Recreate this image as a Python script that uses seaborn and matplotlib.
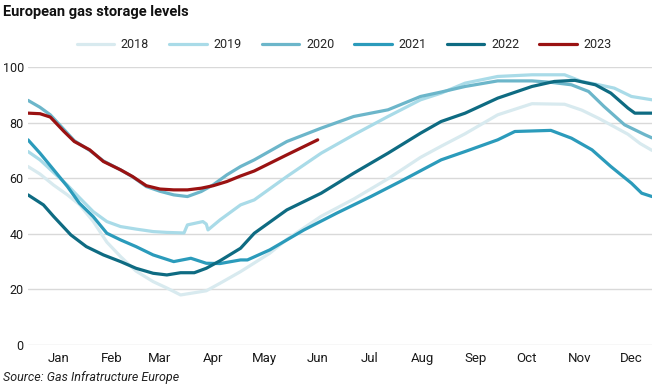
import matplotlib
matplotlib.use("Agg")
import matplotlib.pyplot as plt
import pandas as pd
import seaborn as sns

# Storage level (% full), by day of year
days_2018 = [1, 8, 16, 24, 31, 35, 39, 47, 55, 64, 74, 82, 90, 98, 105, 113, 125, 142, 152, 172, 191, 211, 230, 242, 256, 275, 295, 314, 324, 334, 343, 351, 358, 365]
vals_2018 = [64.2, 61.5, 57.5, 54.0, 50.5, 47.5, 44.5, 37.0, 31.8, 26.6, 22.8, 20.5, 18.0, 18.8, 19.5, 22.2, 26.4, 33.0, 38.0, 46.3, 52.5, 59.8, 67.5, 71.5, 76.0, 82.8, 86.8, 86.6, 84.5, 81.5, 78.5, 75.8, 72.5, 70.0]

days_2019 = [1, 8, 16, 24, 31, 39, 47, 55, 64, 74, 82, 92, 94, 103, 105, 106, 113, 125, 133, 152, 172, 191, 211, 230, 242, 256, 275, 295, 314, 324, 334, 343, 353, 365]
vals_2019 = [69.6, 66.6, 62.0, 57.5, 53.0, 48.0, 44.4, 42.6, 41.7, 40.8, 40.5, 40.3, 43.2, 44.4, 43.5, 41.4, 45.0, 50.4, 52.2, 60.6, 69.0, 75.6, 82.2, 88.2, 90.6, 94.2, 96.6, 97.2, 97.2, 94.8, 93.6, 92.4, 89.4, 88.2]

days_2020 = [1, 8, 14, 22, 28, 37, 45, 55, 62, 70, 78, 86, 94, 102, 109, 117, 125, 133, 152, 172, 191, 211, 230, 242, 256, 275, 295, 306, 318, 328, 337, 349, 361, 365]
vals_2020 = [88.0, 85.5, 82.8, 77.5, 73.5, 70.0, 66.2, 63.0, 60.5, 57.0, 55.3, 54.0, 53.4, 55.2, 57.6, 61.2, 64.2, 66.6, 73.2, 78.0, 82.2, 84.6, 89.4, 91.0, 93.0, 95.0, 95.0, 94.5, 93.6, 91.2, 85.8, 79.2, 75.6, 74.5]

days_2021 = [1, 8, 16, 24, 31, 39, 47, 55, 64, 74, 86, 96, 105, 113, 125, 129, 142, 162, 181, 201, 220, 242, 256, 275, 285, 306, 318, 330, 341, 353, 359, 365]
vals_2021 = [73.8, 69.0, 63.0, 57.0, 51.0, 46.2, 40.2, 37.8, 35.4, 32.4, 30.0, 31.2, 29.4, 29.3, 30.6, 30.6, 34.2, 41.4, 47.4, 53.4, 59.4, 66.6, 69.6, 73.8, 76.8, 77.2, 74.4, 70.2, 64.2, 58.2, 54.6, 53.4]

days_2022 = [1, 10, 16, 26, 35, 45, 55, 64, 74, 82, 90, 98, 105, 113, 125, 133, 152, 172, 191, 211, 230, 242, 256, 275, 295, 308, 320, 332, 341, 351, 355, 365]
vals_2022 = [54.0, 50.4, 46.2, 39.6, 35.4, 32.4, 30.0, 27.6, 25.8, 25.2, 26.0, 26.0, 27.6, 30.3, 34.8, 40.2, 48.6, 54.6, 61.8, 69.0, 76.2, 80.4, 83.4, 88.8, 93.0, 94.8, 95.2, 93.6, 90.6, 85.2, 83.4, 83.4]

days_2023 = [1, 8, 14, 22, 28, 37, 45, 55, 62, 70, 78, 86, 94, 102, 109, 117, 125, 133, 152, 170]
vals_2023 = [83.4, 83.2, 82.0, 76.8, 73.2, 70.2, 66.0, 63.0, 60.6, 57.3, 56.1, 55.8, 55.8, 56.4, 57.3, 58.8, 60.8, 62.6, 68.4, 73.8]

years = ['2018', '2019', '2020', '2021', '2022', '2023']
month_labels = ['Jan', 'Feb', 'Mar', 'Apr', 'May', 'Jun', 'Jul', 'Aug', 'Sep', 'Oct', 'Nov', 'Dec']
month_starts = [1, 32, 60, 91, 121, 152, 182, 213, 244, 274, 305, 335]

colors = {
    '2018': '#d8eaef',
    '2019': '#a9dbe8',
    '2020': '#6cb6ca',
    '2021': '#2b9bbb',
    '2022': '#0e6b82',
    '2023': '#9a1212',
}

all_days = [days_2018, days_2019, days_2020, days_2021, days_2022, days_2023]
all_vals = [vals_2018, vals_2019, vals_2020, vals_2021, vals_2022, vals_2023]
frames = []
for y, d, v in zip(years, all_days, all_vals):
    frames.append(pd.DataFrame({'day': d, 'level': v, 'year': y}))
df = pd.concat(frames, ignore_index=True)

sns.set_theme(style='white')
plt.rcParams['font.family'] = ['Roboto', 'DejaVu Sans']

fig = plt.figure(figsize=(6.52, 3.86), dpi=100)
ax = fig.add_axes([28 / 652, 41 / 386, 624 / 652, 278 / 386])

sns.lineplot(data=df, x='day', y='level', hue='year', palette=colors,
             hue_order=years, linewidth=2.3, ax=ax, legend=False, sort=True)

ax.set_xlim(1, 365)
ax.set_ylim(0, 100)
ax.set_yticks([0, 20, 40, 60, 80, 100])
ax.set_xticks([m + 18 for m in month_starts])
ax.set_xticklabels(month_labels)
ax.set_xlabel('')
ax.set_ylabel('')
ax.grid(axis='y', color='#d9d9d9', linewidth=1)
ax.set_axisbelow(True)
for s in ax.spines.values():
    s.set_visible(False)
ax.tick_params(axis='both', length=0, colors='#1a1a1a')
ax.tick_params(axis='y', pad=3, labelsize=9)
ax.tick_params(axis='x', pad=5, labelsize=9.5)
for lab in ax.get_yticklabels():
    lab.set_clip_on(False)

handles = [plt.Line2D([], [], color=colors[y], linewidth=2.3) for y in years]
fig.legend(handles, years, loc='center', bbox_to_anchor=(0.528, 1 - 45 / 386),
           ncol=6, frameon=False, fontsize=9, handlelength=3.0,
           columnspacing=1.6, handletextpad=0.55)

fig.text(3 / 652, 1 - 5 / 386, 'European gas storage levels', ha='left', va='top',
         fontsize=10.5, fontweight='bold', color='#111111')
fig.text(3 / 652, 1 - 378 / 386, 'Source: Gas Infratructure Europe', ha='left', va='center',
         fontsize=9, style='italic', color='#222222')

fig.savefig('out.png', dpi=100)
